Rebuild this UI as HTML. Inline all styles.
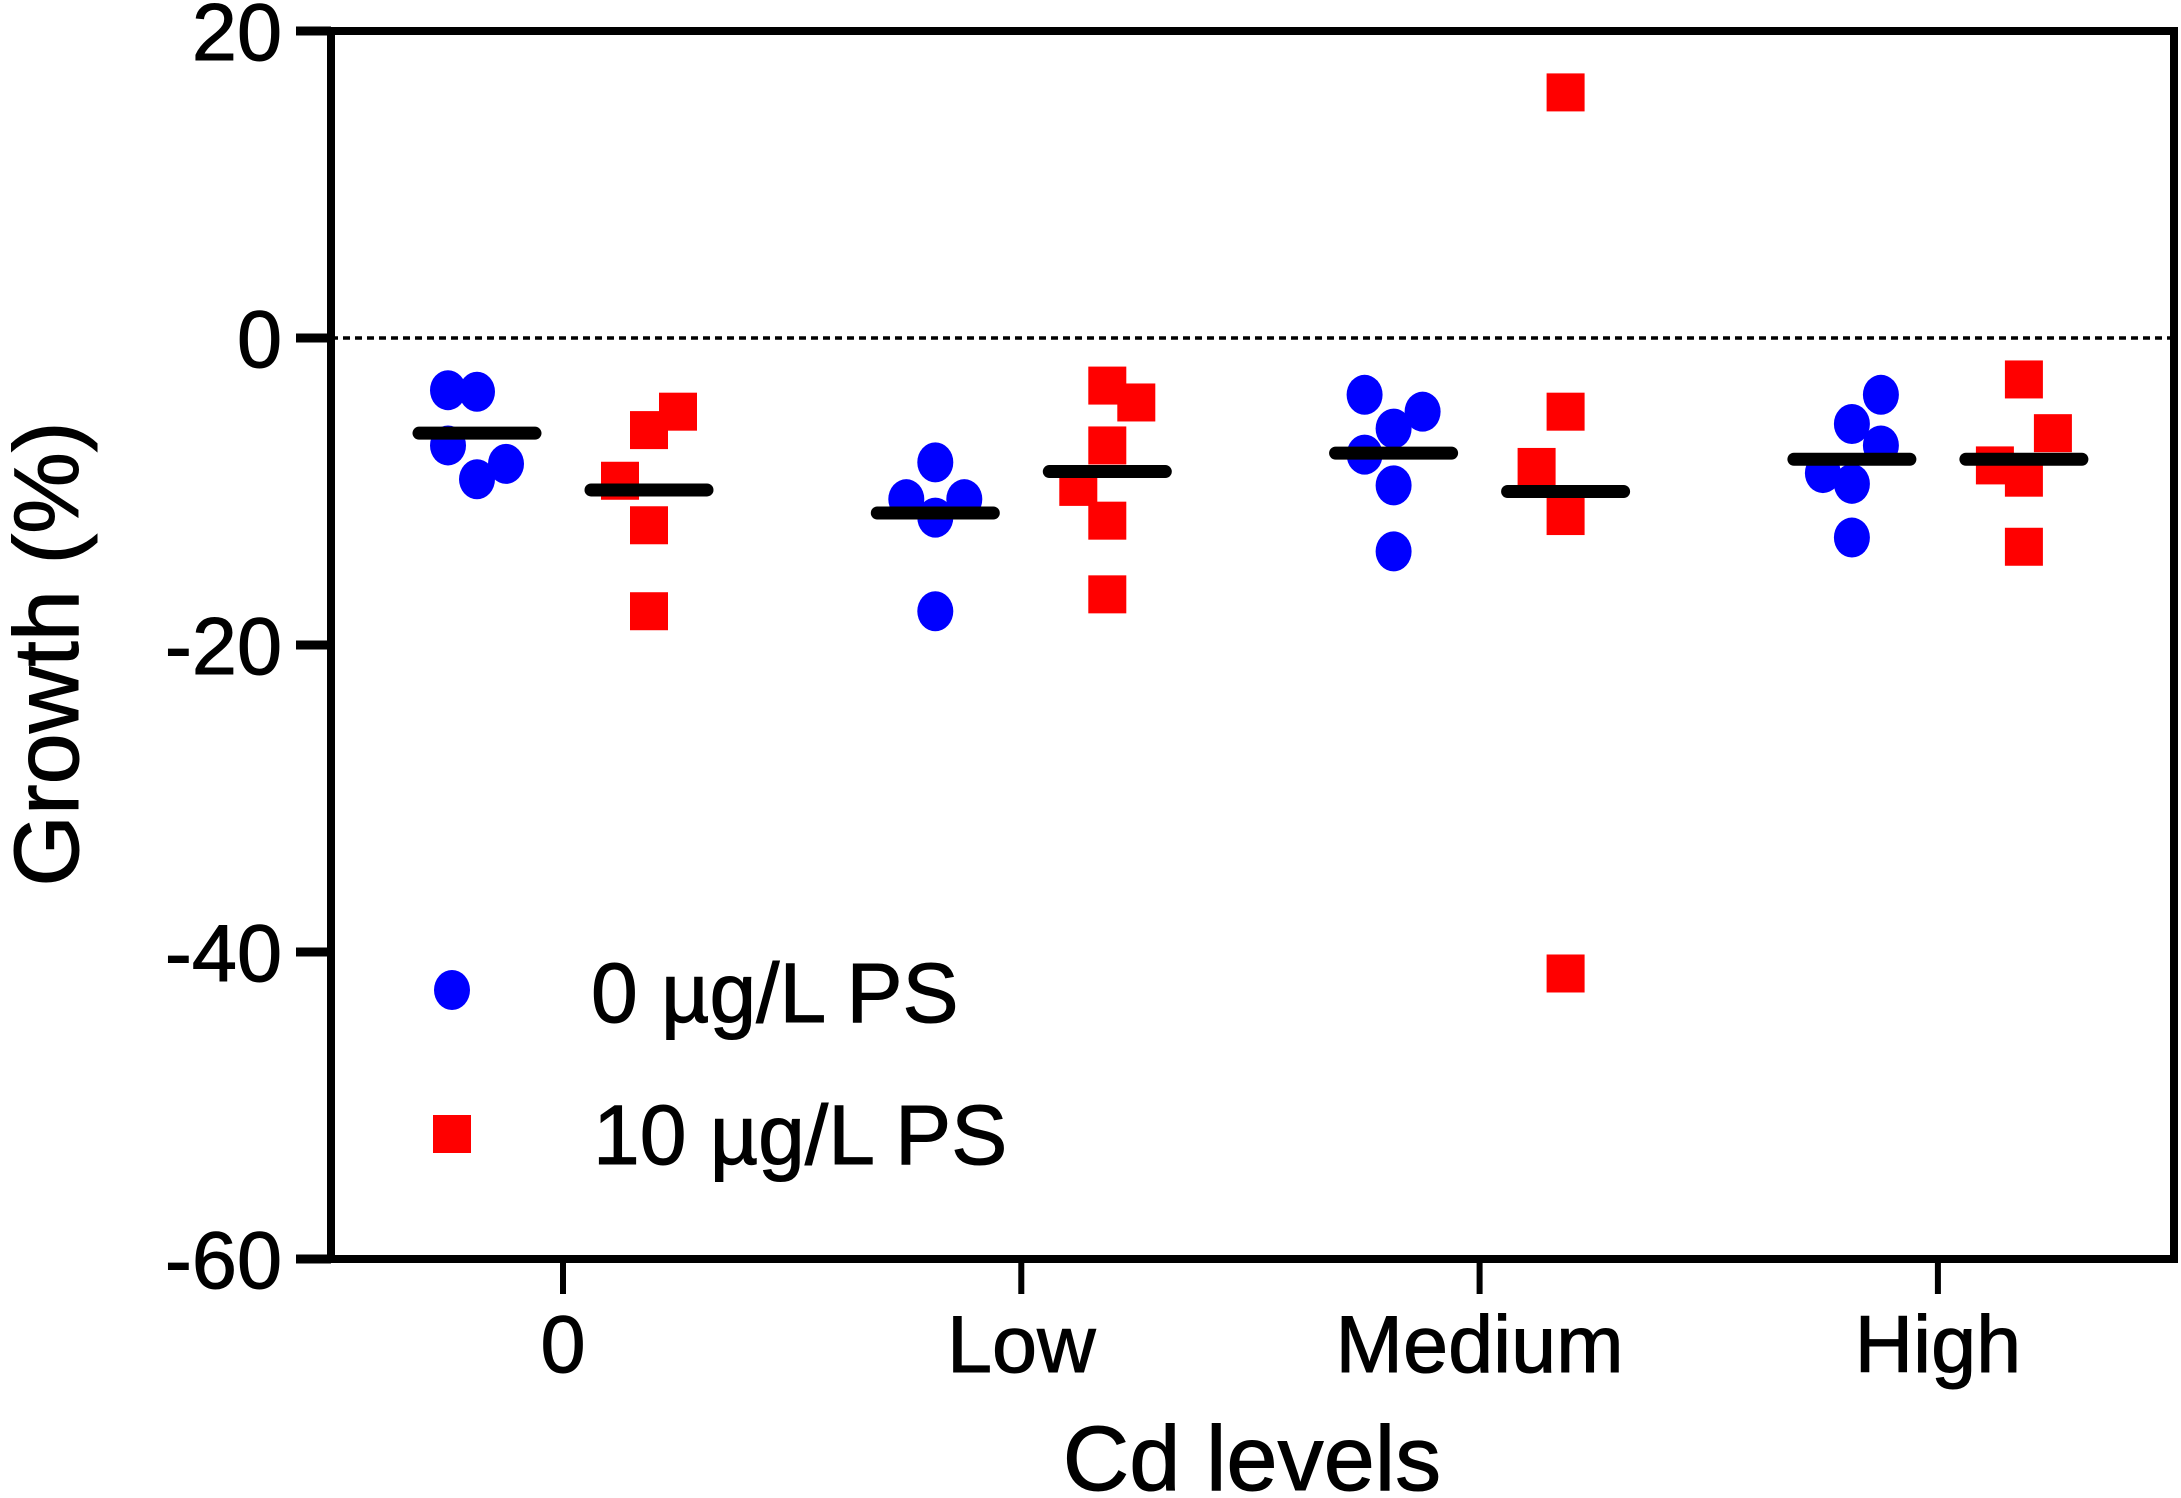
<!DOCTYPE html>
<html><head><meta charset="utf-8"><style>
html,body{margin:0;padding:0;background:#fff;}
svg{display:block;font-family:"Liberation Sans",Arial,sans-serif;}
</style></head><body>
<svg id="chart" width="2181" height="1498" viewBox="0 0 2181 1498"></svg>
<script>
const categories = ["0","Low","Medium","High"];
const blueValues = [[-3.4,-3.5,-7.0,-8.2,-9.2],[-8.1,-10.5,-10.5,-11.7,-17.8],[-3.7,-5.9,-4.8,-7.6,-9.6,-13.9],[-3.7,-5.6,-7.0,-8.8,-9.5,-13.0]];
const blueJitter = [[-1,0,-1,1,0],[0,-1,1,0,0],[-1,0,1,-1,0,0],[1,0,1,-1,0,0]];
const blueMeans = [-6.2,-11.4,-7.5,-7.9];
const redValues = [[-6.0,-4.8,-9.3,-12.2,-17.8],[-3.1,-4.2,-7.0,-9.7,-11.9,-16.7],[16.0,-4.8,-8.4,-11.6,-41.4],[-2.7,-6.2,-8.3,-9.1,-13.6]];
const redJitter = [[0,1,-1,0,0],[0,1,0,-1,0,0],[0,0,-1,0,0],[0,1,-1,0,0]];
const redMeans = [-9.9,-8.7,-10.0,-7.9];
const yTicks = [20,0,-20,-40,-60];

const NS="http://www.w3.org/2000/svg";
const svg=document.getElementById('chart');
const L=331,T=31,R=2174,B=1259,yMin=-60,yMax=20;
const y=v=>T+(yMax-v)/(yMax-yMin)*(B-T);
const xc=i=>563+i*458.3;
function mk(tag,attrs,parent){const e=document.createElementNS(NS,tag);for(const k in attrs)e.setAttribute(k,attrs[k]);(parent||svg).appendChild(e);return e;}

let zl=mk('line',{x1:L,x2:R,y1:y(0),y2:y(0),stroke:'#000','stroke-width':3.5,'stroke-dasharray':'7 5'});



let fr=mk('rect',{x:L,y:T,width:R-L,height:B-T,fill:'none',stroke:'#000','stroke-width':8});



yTicks.forEach(v=>{
  let t=mk('line',{x1:296,x2:L,y1:y(v),y2:y(v),stroke:'#000','stroke-width':9});
  
  
  let lb=mk('text',{x:282,y:y(v)+29,'text-anchor':'end','font-size':81,stroke:'#000','stroke-width':1});
  lb.textContent=v;
  
  
});
categories.forEach((c,i)=>{
  let t=mk('line',{x1:xc(i),x2:xc(i),y1:B,y2:1294,stroke:'#000','stroke-width':6});
  
  
  let lb=mk('text',{x:xc(i),y:1372,'text-anchor':'middle','font-size':81,stroke:'#000','stroke-width':1});
  lb.textContent=c;
  
  
});

const J=29,OFF=86;
blueValues.forEach((arr,i)=>arr.forEach((v,k)=>{
  let c=mk('ellipse',{cx:xc(i)-OFF+blueJitter[i][k]*J,cy:y(v),rx:18,ry:20,fill:'#0000ff'});
  
  
}));
redValues.forEach((arr,i)=>arr.forEach((v,k)=>{
  let r=mk('rect',{x:xc(i)+OFF+redJitter[i][k]*J-19,y:y(v)-19,width:38,height:38,fill:'#ff0000'});
  
  
}));
blueMeans.forEach((v,i)=>{
  let m=mk('line',{x1:xc(i)-OFF-58,x2:xc(i)-OFF+58,y1:y(v),y2:y(v),stroke:'#000','stroke-width':13,'stroke-linecap':'round'});
  
  
});
redMeans.forEach((v,i)=>{
  let m=mk('line',{x1:xc(i)+OFF-58,x2:xc(i)+OFF+58,y1:y(v),y2:y(v),stroke:'#000','stroke-width':13,'stroke-linecap':'round'});
  
  
});
</script>
<div style="position:absolute;left:0;top:0;width:2181px;height:1498px;pointer-events:none;">
<svg width="2181" height="1498" style="font-family:'Liberation Sans',Arial,sans-serif;">
  <g>
    <ellipse cx="452" cy="990" rx="18" ry="20" fill="#0000ff"/>
    <text x="591" y="1022" font-size="84" stroke="#000" stroke-width="1">0 µg/L PS</text>
    <rect x="433" y="1115" width="38" height="38" fill="#ff0000"/>
    <text x="593" y="1164" font-size="84" stroke="#000" stroke-width="1">10 µg/L PS</text>
  </g>
  <text x="1252" y="1490" font-size="92" text-anchor="middle" stroke="#000" stroke-width="1">Cd levels</text>
  <text transform="translate(78,654) rotate(-90)" font-size="92" text-anchor="middle" stroke="#000" stroke-width="1">Growth (%)</text>
</svg>
</div>
</body></html>
